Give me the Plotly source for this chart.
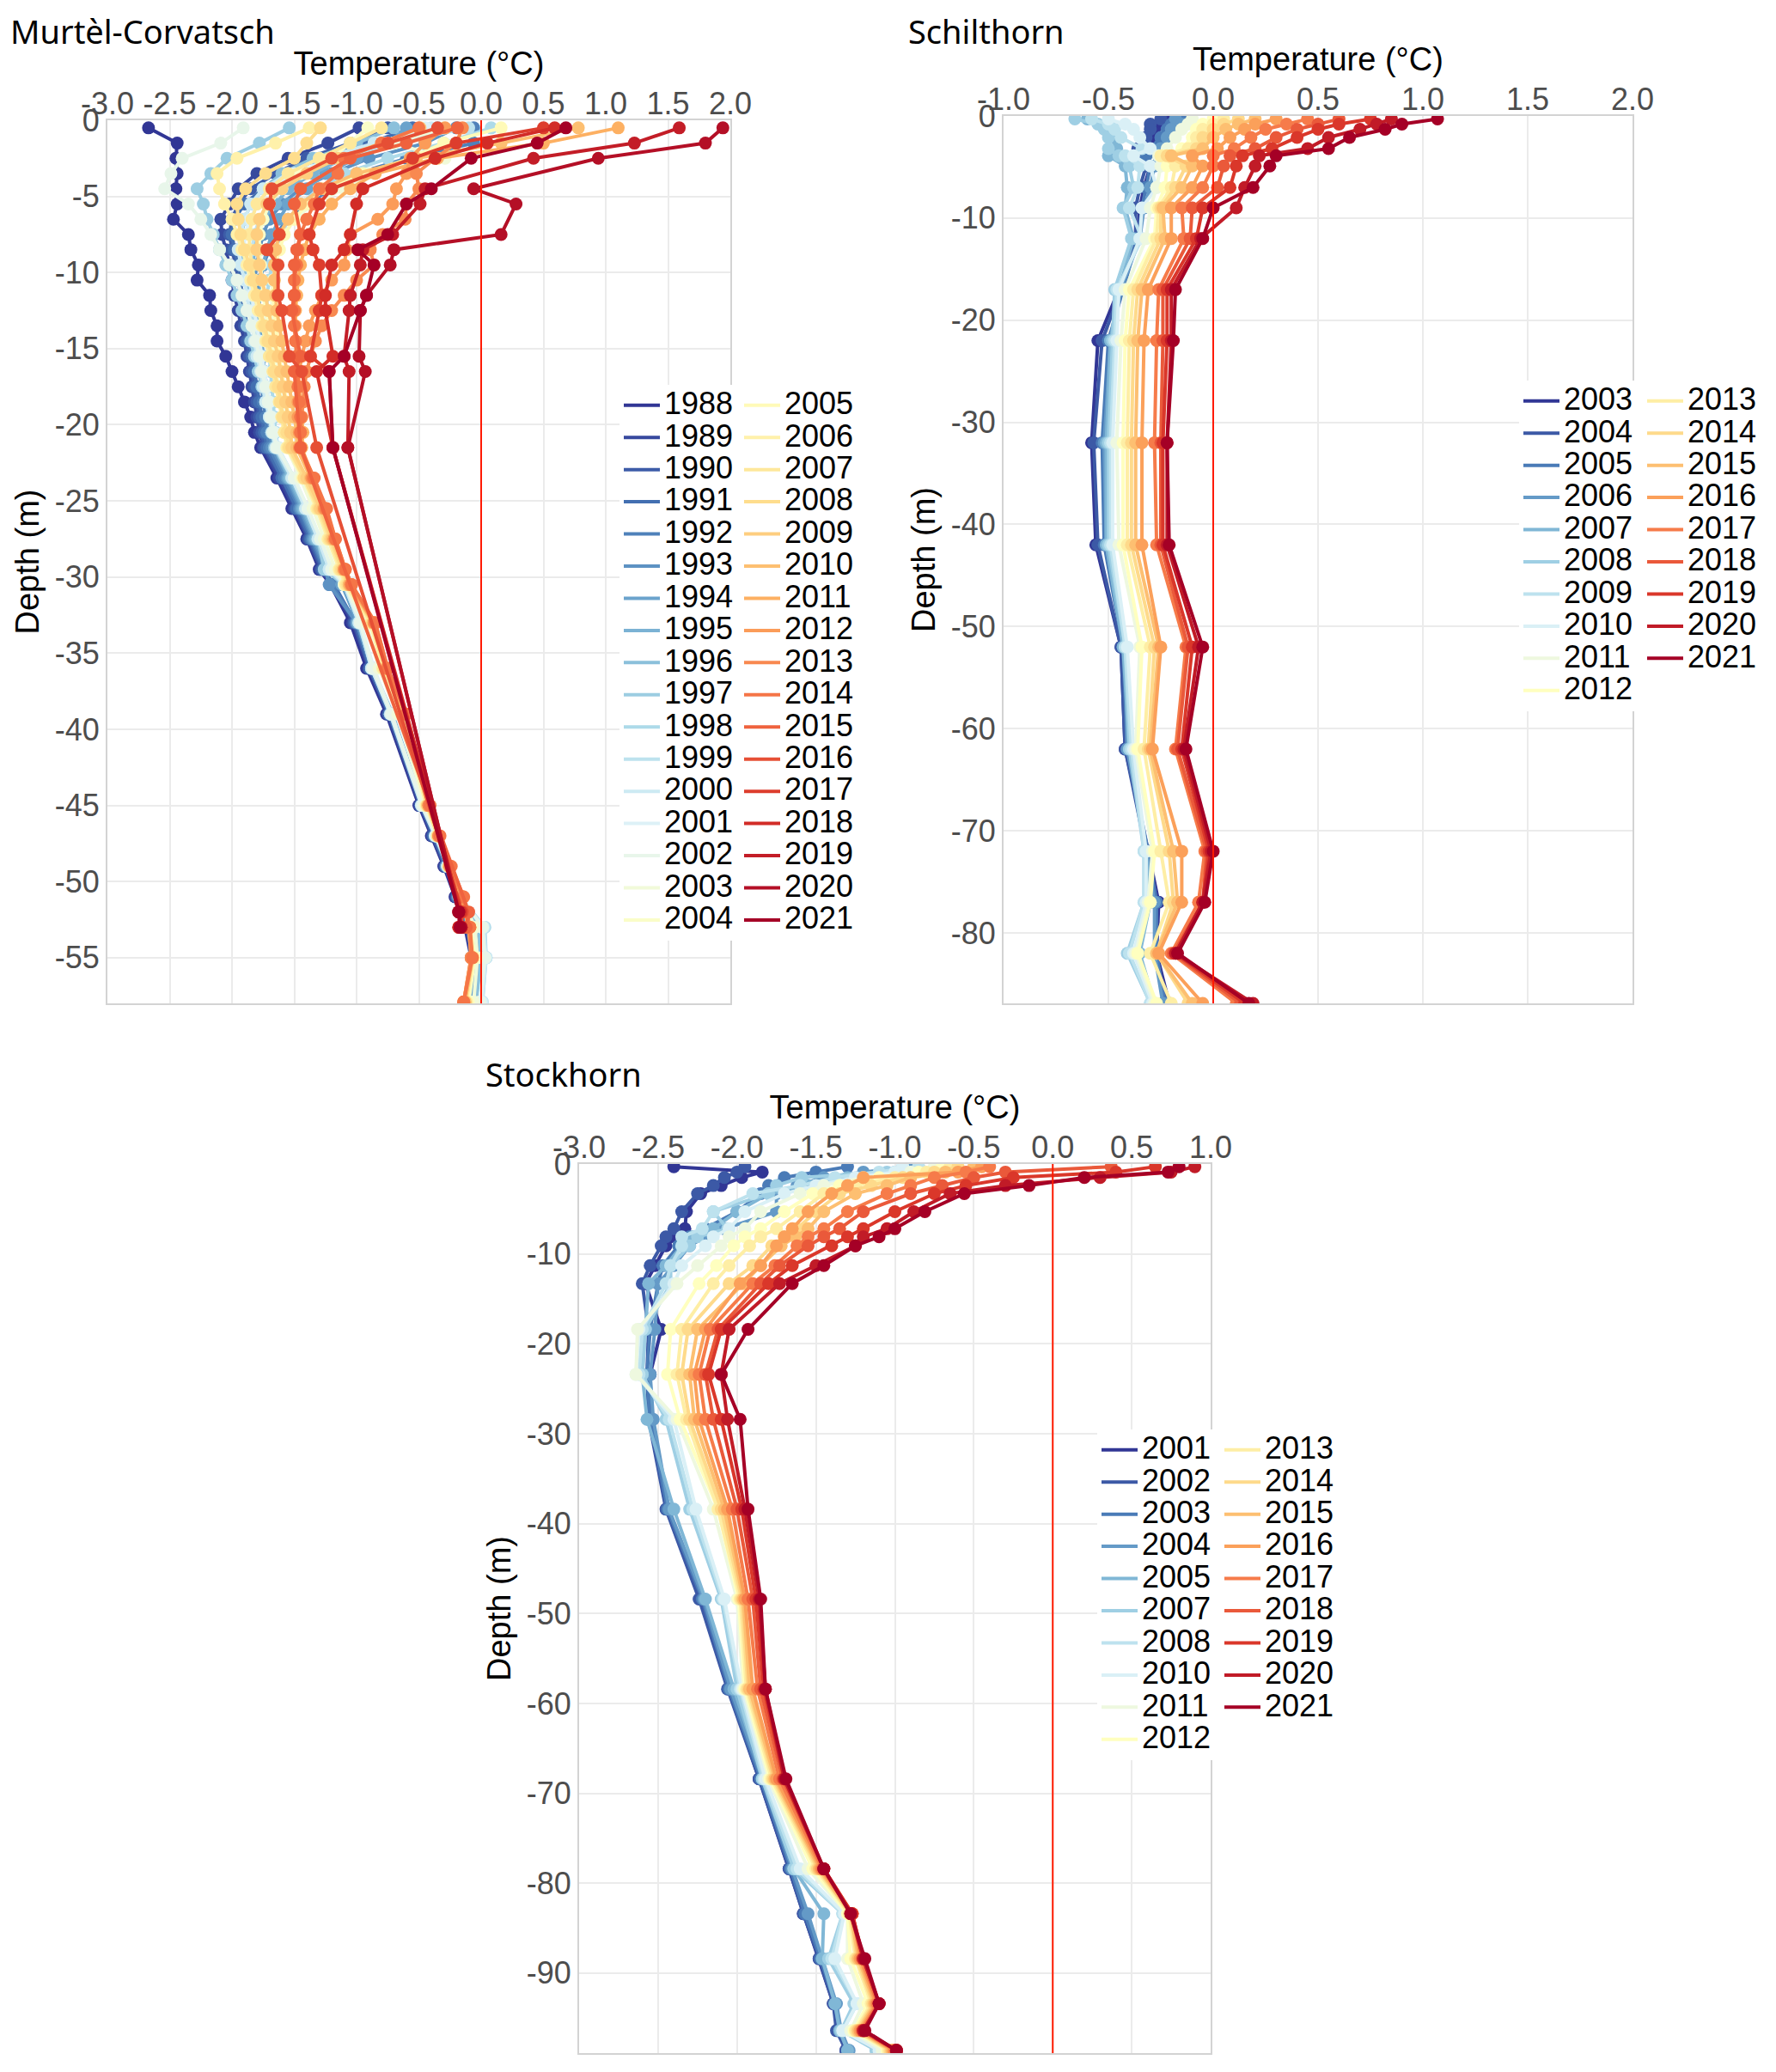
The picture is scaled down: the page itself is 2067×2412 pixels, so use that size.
import plotly.graph_objects as go
from plotly.colors import diverging, sample_colorscale

# the page body adds an 8 px margin, so the figure is drawn 16 px smaller
# and all positions below are given in page pixels
OFF = 8
W, H = 2067 - 2 * OFF, 2412 - 2 * OFF

# ---------------- Murtèl-Corvatsch ----------------
MC_YEARS = [1988, 1989, 1990, 1991, 1992, 1993, 1994, 1995, 1996, 1997, 1998, 1999,
            2000, 2001, 2002, 2003, 2004, 2005, 2006, 2007, 2008, 2009, 2010, 2011,
            2012, 2013, 2014, 2015, 2016, 2017, 2018, 2019, 2020, 2021]
# old borehole (1988-2014) and new sensor set (2015-2021)
MC_DEPTH_OLD = [0.5, 1.5, 2.5, 3.5, 4.5, 5.5, 6.5, 7.5, 8.5, 9.5, 10.5, 11.5, 12.5, 13.5,
                14.5, 15.5, 16.5, 17.5, 18.5, 19.5, 20.5, 21.5, 23.5, 25.5, 27.5, 29.5,
                30.5, 33, 36, 39, 45, 47, 49, 51, 53, 55, 57.9]
MC_DEPTH_NEW = [0.5, 1.5, 2.5, 4.5, 5.5, 7.5, 8.5, 9.5, 11.5, 12.5, 15.5, 16.5, 21.5, 52, 53]

MC_1988 = [-2.67, -2.44, -2.45, -2.44, -2.45, -2.44, -2.47, -2.35, -2.33, -2.27, -2.28, -2.18, -2.17, -2.12, -2.12, -2.05, -2.0, -1.95, -1.9, -1.85, -1.82, -1.77, -1.64, -1.52, -1.4, -1.3, -1.21, -1.05, -0.92, -0.76, -0.5, -0.4, -0.3, -0.21, -0.13, -0.08, -0.12]
MC_1989 = [-0.98, -1.23, -1.55, -1.8, -1.95, -2.02, -2.09, -2.08, -2.05, -2.02, -2.0, -1.98, -1.95, -1.93, -1.9, -1.88, -1.86, -1.84, -1.82, -1.8, -1.78, -1.75, -1.62, -1.5, -1.39, -1.29, -1.2, -1.03, -0.9, -0.75, -0.49, -0.39, -0.29, -0.2, -0.12, -0.07, -0.11]
MC_1990 = [-0.75, -1.05, -1.4, -1.65, -1.85, -1.95, -2.0, -2.02, -2.0, -1.97, -1.95, -1.93, -1.92, -1.9, -1.88, -1.86, -1.84, -1.82, -1.8, -1.78, -1.76, -1.74, -1.6, -1.49, -1.38, -1.28, -1.19, -1.02, -0.9, -0.74, -0.49, -0.39, -0.29, -0.2, -0.12, -0.07, -0.11]
MC_1991 = [-0.55, -0.9, -1.3, -1.55, -1.75, -1.9, -1.98, -2.0, -1.98, -1.95, -1.93, -1.92, -1.9, -1.88, -1.86, -1.84, -1.82, -1.8, -1.78, -1.76, -1.74, -1.72, -1.6, -1.48, -1.37, -1.27, -1.18, -1.01, -0.89, -0.74, -0.48, -0.38, -0.28, -0.19, -0.11, -0.06, -0.1]
MC_1992 = [-0.06, -0.06, -0.6, -1.0, -1.2, -1.4, -1.55, -1.65, -1.7, -1.75, -1.78, -1.8, -1.8, -1.8, -1.79, -1.78, -1.77, -1.76, -1.75, -1.73, -1.72, -1.7, -1.58, -1.46, -1.36, -1.26, -1.2, -1.0, -0.88, -0.73, -0.48, -0.37, -0.28, -0.19, -0.1, -0.05, -0.09]
MC_1993 = [-0.2, -0.45, -0.9, -1.2, -1.45, -1.6, -1.7, -1.75, -1.78, -1.8, -1.82, -1.82, -1.81, -1.8, -1.78, -1.77, -1.75, -1.74, -1.72, -1.7, -1.69, -1.68, -1.56, -1.45, -1.35, -1.25, -1.22, -1.0, -0.88, -0.72, -0.48, -0.37, -0.28, -0.18, -0.1, -0.05, -0.09]
MC_1994 = [-0.6, -0.75, -1.0, -1.25, -1.4, -1.55, -1.62, -1.68, -1.72, -1.75, -1.77, -1.78, -1.78, -1.77, -1.76, -1.75, -1.74, -1.72, -1.71, -1.7, -1.68, -1.66, -1.55, -1.44, -1.34, -1.24, -1.12, -0.99, -0.87, -0.72, -0.47, -0.36, -0.27, -0.18, -0.09, -0.04, -0.08]
MC_1995 = [-0.35, -0.7, -1.1, -1.35, -1.55, -1.65, -1.75, -1.8, -1.82, -1.83, -1.83, -1.82, -1.8, -1.79, -1.77, -1.76, -1.74, -1.73, -1.71, -1.7, -1.68, -1.66, -1.54, -1.43, -1.33, -1.23, -1.08, -0.99, -0.87, -0.72, -0.47, -0.36, -0.27, -0.18, -0.05, -0.02, -0.06]
MC_1996 = [-0.7, -1.0, -1.35, -1.6, -1.75, -1.85, -1.9, -1.92, -1.92, -1.9, -1.88, -1.86, -1.84, -1.82, -1.8, -1.78, -1.76, -1.74, -1.72, -1.7, -1.68, -1.66, -1.53, -1.42, -1.32, -1.22, -1.07, -0.98, -0.87, -0.71, -0.47, -0.36, -0.27, -0.18, -0.02, 0.0, -0.04]
MC_1997 = [-1.54, -1.78, -2.04, -2.17, -2.28, -2.23, -2.2, -2.15, -2.1, -2.05, -2.0, -1.96, -1.92, -1.88, -1.85, -1.82, -1.79, -1.76, -1.73, -1.7, -1.67, -1.65, -1.52, -1.41, -1.31, -1.26, -1.1, -0.98, -0.88, -0.72, -0.47, -0.36, -0.27, -0.17, 0.02, 0.04, 0.0]
MC_1998 = [0.08, -0.3, -0.75, -1.1, -1.3, -1.45, -1.55, -1.6, -1.65, -1.68, -1.7, -1.72, -1.72, -1.72, -1.71, -1.7, -1.69, -1.68, -1.67, -1.66, -1.65, -1.63, -1.5, -1.4, -1.3, -1.21, -1.09, -0.97, -0.87, -0.72, -0.47, -0.36, -0.27, -0.17, 0.03, 0.04, 0.01]
MC_1999 = [-0.1, -0.7, -1.15, -1.45, -1.6, -1.7, -1.78, -1.82, -1.84, -1.85, -1.85, -1.84, -1.83, -1.81, -1.79, -1.77, -1.75, -1.73, -1.71, -1.69, -1.67, -1.64, -1.51, -1.4, -1.3, -1.22, -1.1, -0.98, -0.88, -0.72, -0.47, -0.36, -0.27, -0.17, 0.02, 0.03, 0.0]
MC_2000 = [-0.4, -0.86, -1.3, -1.55, -1.75, -1.85, -1.9, -1.93, -1.95, -1.93, -1.9, -1.88, -1.86, -1.84, -1.82, -1.8, -1.77, -1.75, -1.73, -1.7, -1.68, -1.65, -1.52, -1.41, -1.31, -1.22, -1.1, -0.98, -0.88, -0.73, -0.48, -0.37, -0.27, -0.17, 0.02, 0.04, 0.01]
MC_2001 = [-0.45, -0.76, -1.2, -1.5, -1.7, -1.8, -1.85, -1.9, -1.9, -1.88, -1.86, -1.84, -1.82, -1.8, -1.78, -1.76, -1.74, -1.72, -1.7, -1.68, -1.66, -1.63, -1.5, -1.39, -1.29, -1.2, -1.08, -0.97, -0.86, -0.72, -0.47, -0.36, -0.26, -0.16, 0.01, 0.03, 0.0]
MC_2002 = [-1.91, -2.09, -2.4, -2.49, -2.54, -2.35, -2.25, -2.17, -2.1, -2.02, -1.96, -1.92, -1.88, -1.84, -1.81, -1.78, -1.76, -1.73, -1.71, -1.69, -1.67, -1.64, -1.5, -1.39, -1.29, -1.2, -1.09, -0.97, -0.87, -0.72, -0.47, -0.36, -0.26, -0.16, 0.01, 0.03, -0.01]
MC_2003 = [-0.3, -0.7, -0.29, -0.9, -1.1, -1.35, -1.5, -1.58, -1.62, -1.65, -1.67, -1.68, -1.68, -1.67, -1.66, -1.65, -1.64, -1.62, -1.6, -1.58, -1.57, -1.56, -1.45, -1.35, -1.26, -1.17, -1.1, -0.92, -0.82, -0.67, -0.45, -0.35, -0.26, -0.16, -0.05, -0.03, -0.06]
MC_2004 = [-0.91, -1.05, -1.2, -1.45, -1.6, -1.7, -1.75, -1.78, -1.78, -1.77, -1.76, -1.75, -1.73, -1.71, -1.69, -1.67, -1.65, -1.63, -1.61, -1.59, -1.57, -1.55, -1.43, -1.32, -1.23, -1.14, -1.09, -0.89, -0.79, -0.64, -0.44, -0.35, -0.26, -0.16, -0.08, -0.05, -0.1]
MC_2005 = [0.16, -0.3, -0.57, -0.95, -1.25, -1.4, -1.5, -1.58, -1.62, -1.65, -1.66, -1.67, -1.66, -1.65, -1.63, -1.62, -1.6, -1.58, -1.56, -1.55, -1.53, -1.52, -1.41, -1.31, -1.22, -1.13, -1.08, -0.88, -0.78, -0.63, -0.43, -0.35, -0.26, -0.16, -0.09, -0.06, -0.11]
MC_2006 = [-1.38, -1.65, -1.96, -2.12, -2.1, -2.06, -2.0, -1.96, -1.92, -1.88, -1.85, -1.82, -1.79, -1.76, -1.73, -1.7, -1.67, -1.64, -1.62, -1.6, -1.58, -1.56, -1.43, -1.32, -1.23, -1.14, -1.09, -0.89, -0.79, -0.64, -0.44, -0.35, -0.26, -0.16, -0.09, -0.06, -0.12]
MC_2007 = [-0.8, -1.05, -1.3, -1.55, -1.7, -1.8, -1.84, -1.86, -1.86, -1.84, -1.82, -1.8, -1.77, -1.75, -1.72, -1.7, -1.67, -1.65, -1.62, -1.6, -1.58, -1.55, -1.42, -1.31, -1.22, -1.13, -1.08, -0.88, -0.78, -0.63, -0.43, -0.35, -0.26, -0.16, -0.1, -0.07, -0.12]
MC_2008 = [-1.29, -1.4, -1.5, -1.73, -1.89, -1.96, -1.95, -1.93, -1.9, -1.86, -1.83, -1.8, -1.77, -1.74, -1.71, -1.68, -1.66, -1.63, -1.61, -1.59, -1.56, -1.54, -1.42, -1.3, -1.21, -1.12, -1.07, -0.87, -0.77, -0.62, -0.43, -0.35, -0.26, -0.16, -0.1, -0.07, -0.13]
MC_2009 = [-0.49, -0.8, -1.15, -1.4, -1.6, -1.72, -1.78, -1.8, -1.8, -1.78, -1.76, -1.73, -1.71, -1.68, -1.66, -1.63, -1.61, -1.59, -1.57, -1.55, -1.53, -1.52, -1.4, -1.29, -1.2, -1.11, -1.06, -0.87, -0.77, -0.62, -0.43, -0.34, -0.25, -0.15, -0.1, -0.07, -0.13]
MC_2010 = [0.78, 0.16, -0.52, -1.0, -1.28, -1.45, -1.55, -1.62, -1.65, -1.66, -1.66, -1.65, -1.64, -1.62, -1.6, -1.58, -1.56, -1.54, -1.52, -1.5, -1.48, -1.48, -1.37, -1.27, -1.19, -1.1, -1.06, -0.86, -0.76, -0.61, -0.42, -0.34, -0.25, -0.15, -0.1, -0.07, -0.13]
MC_2011 = [1.1, 0.5, -0.35, -0.85, -1.05, -1.2, -1.3, -1.38, -1.42, -1.45, -1.47, -1.48, -1.49, -1.49, -1.49, -1.48, -1.47, -1.46, -1.45, -1.44, -1.43, -1.44, -1.35, -1.25, -1.18, -1.1, -1.05, -0.86, -0.76, -0.61, -0.42, -0.34, -0.25, -0.15, -0.1, -0.08, -0.14]
MC_2012 = [-0.29, -0.45, -0.57, -0.6, -0.68, -0.71, -0.83, -1.05, -1.08, -1.1, -1.2, -1.28, -1.33, -1.38, -1.41, -1.44, -1.46, -1.47, -1.47, -1.47, -1.46, -1.46, -1.36, -1.26, -1.18, -1.1, -1.05, -0.86, -0.76, -0.6, -0.42, -0.34, -0.25, -0.15, -0.1, -0.08, -0.14]
MC_2013 = [-0.15, -0.2, -0.37, -0.52, -0.5, -0.6, -0.61, -0.79, -0.89, -0.86, -1.0, -1.1, -1.2, -1.28, -1.33, -1.37, -1.4, -1.42, -1.43, -1.44, -1.45, -1.45, -1.35, -1.25, -1.17, -1.09, -1.04, -0.85, -0.75, -0.6, -0.42, -0.34, -0.25, -0.15, -0.09, -0.08, -0.14]
MC_2014 = [-0.5, -0.8, -1.1, -1.15, -1.3, -1.34, -1.4, -1.45, -1.47, -1.48, -1.5, -1.5, -1.5, -1.5, -1.49, -1.48, -1.47, -1.47, -1.46, -1.45, -1.45, -1.45, -1.34, -1.24, -1.17, -1.09, -1.04, -0.85, -0.75, -0.6, -0.41, -0.33, -0.24, -0.14, -0.09, -0.07, -0.14]
MC_2015 = [-0.19, -0.6, -1.05, -1.45, -1.5, -1.45, -1.48, -1.5, -1.5, -1.52, -1.45, -1.5, -1.45, -0.1, -0.12]
MC_2016 = [-0.35, -0.75, -1.2, -1.68, -1.7, -1.62, -1.72, -1.63, -1.63, -1.6, -1.54, -1.44, -1.32, -0.15, -0.16]
MC_2017 = [0.5, -0.2, -0.55, -1.2, -1.3, -1.38, -1.35, -1.3, -1.28, -1.3, -1.37, -1.22, -1.19, -0.16, -0.18]
MC_2018 = [0.59, 0.05, -0.37, -0.95, -1.0, -1.05, -1.1, -1.2, -1.25, -1.25, -1.19, -1.32, -1.19, -0.17, -0.18]
MC_2019 = [1.59, 1.23, 0.42, -0.45, -0.49, -0.71, -0.95, -0.97, -1.05, -1.06, -1.1, -1.06, -1.07, -0.18, -0.16]
MC_2020 = [1.94, 1.8, 0.94, -0.06, 0.28, 0.16, -0.7, -0.73, -0.92, -0.97, -0.98, -0.93, -1.07, -0.18, -0.16]
MC_2021 = [0.68, 0.45, -0.08, -0.4, -0.6, -0.75, -0.99, -0.86, -0.92, -0.97, -1.1, -1.22, -1.19, -0.18, -0.17]

MC_TEMPS = [MC_1988, MC_1989, MC_1990, MC_1991, MC_1992, MC_1993, MC_1994, MC_1995,
            MC_1996, MC_1997, MC_1998, MC_1999, MC_2000, MC_2001, MC_2002, MC_2003,
            MC_2004, MC_2005, MC_2006, MC_2007, MC_2008, MC_2009, MC_2010, MC_2011,
            MC_2012, MC_2013, MC_2014, MC_2015, MC_2016, MC_2017, MC_2018, MC_2019,
            MC_2020, MC_2021]

# ---------------- Schilthorn ----------------
SH_YEARS = [2003, 2004, 2005, 2006, 2007, 2008, 2009, 2010, 2011, 2012,
            2013, 2014, 2015, 2016, 2017, 2018, 2019, 2020, 2021]
SH_DEPTH = [0.3, 0.8, 1.3, 2.1, 3.2, 3.9, 4.9, 7.0, 9.0, 12.0, 17.0, 22.0,
            32.0, 42.0, 52.0, 62.0, 72.0, 77.0, 82.0, 86.9]

SH_2003 = [-0.2, -0.25, -0.28, -0.3, -0.34, -0.34, -0.3, -0.33, -0.35, -0.36, -0.45, -0.55, -0.58, -0.56, -0.44, -0.42, -0.31, -0.26, -0.27, -0.21]
SH_2004 = [-0.25, -0.3, -0.3, -0.32, -0.36, -0.35, -0.32, -0.35, -0.37, -0.37, -0.44, -0.53, -0.57, -0.55, -0.44, -0.42, -0.32, -0.27, -0.28, -0.22]
SH_2005 = [-0.15, -0.2, -0.22, -0.25, -0.3, -0.32, -0.3, -0.32, -0.34, -0.36, -0.43, -0.5, -0.53, -0.52, -0.43, -0.41, -0.31, -0.27, -0.27, -0.23]
SH_2006 = [-0.18, -0.15, -0.2, -0.22, -0.25, -0.26, -0.28, -0.3, -0.33, -0.35, -0.44, -0.49, -0.52, -0.51, -0.42, -0.41, -0.32, -0.28, -0.28, -0.24]
SH_2007 = [-0.6, -0.5, -0.48, -0.47, -0.46, -0.5, -0.42, -0.41, -0.42, -0.38, -0.45, -0.49, -0.51, -0.51, -0.43, -0.4, -0.32, -0.3, -0.35, -0.28]
SH_2008 = [-0.66, -0.55, -0.52, -0.5, -0.5, -0.45, -0.4, -0.38, -0.43, -0.39, -0.47, -0.48, -0.5, -0.5, -0.42, -0.4, -0.33, -0.33, -0.41, -0.3]
SH_2009 = [-0.58, -0.5, -0.47, -0.44, -0.34, -0.42, -0.35, -0.36, -0.4, -0.34, -0.46, -0.47, -0.49, -0.49, -0.42, -0.39, -0.33, -0.33, -0.4, -0.3]
SH_2010 = [-0.5, -0.42, -0.38, -0.35, -0.3, -0.38, -0.3, -0.27, -0.34, -0.35, -0.45, -0.46, -0.48, -0.48, -0.41, -0.38, -0.32, -0.32, -0.38, -0.29]
SH_2011 = [-0.1, -0.12, -0.15, -0.18, -0.22, -0.26, -0.25, -0.27, -0.3, -0.32, -0.42, -0.44, -0.46, -0.45, -0.35, -0.37, -0.29, -0.31, -0.37, -0.28]
SH_2012 = [0.0, -0.05, -0.08, -0.1, -0.15, -0.24, -0.22, -0.23, -0.27, -0.28, -0.4, -0.42, -0.43, -0.43, -0.34, -0.36, -0.28, -0.3, -0.36, -0.27]
SH_2013 = [0.05, 0.0, -0.05, -0.08, -0.12, -0.25, -0.18, -0.2, -0.26, -0.27, -0.38, -0.4, -0.41, -0.41, -0.3, -0.33, -0.25, -0.21, -0.3, -0.2]
SH_2014 = [0.12, 0.05, 0.0, -0.05, -0.08, -0.22, -0.13, -0.18, -0.25, -0.25, -0.36, -0.38, -0.39, -0.39, -0.28, -0.31, -0.21, -0.19, -0.27, -0.12]
SH_2015 = [0.2, 0.12, 0.06, 0.0, -0.05, -0.2, -0.1, -0.15, -0.24, -0.23, -0.34, -0.36, -0.37, -0.37, -0.26, -0.3, -0.19, -0.17, -0.27, -0.1]
SH_2016 = [0.3, 0.2, 0.15, 0.08, 0.02, -0.1, -0.05, -0.1, -0.2, -0.2, -0.31, -0.33, -0.34, -0.34, -0.25, -0.29, -0.15, -0.15, -0.26, -0.05]
SH_2017 = [0.45, 0.35, 0.25, 0.18, 0.1, 0.0, 0.0, -0.05, -0.15, -0.14, -0.26, -0.27, -0.28, -0.27, -0.13, -0.18, -0.04, -0.07, -0.2, 0.11]
SH_2018 = [0.6, 0.5, 0.4, 0.3, 0.2, 0.08, 0.05, 0.02, -0.1, -0.11, -0.24, -0.24, -0.25, -0.25, -0.12, -0.17, -0.03, -0.05, -0.19, 0.13]
SH_2019 = [0.75, 0.6, 0.5, 0.4, 0.28, 0.14, 0.11, 0.08, -0.05, -0.08, -0.22, -0.22, -0.24, -0.24, -0.1, -0.15, -0.02, -0.05, -0.18, 0.15]
SH_2020 = [0.85, 0.78, 0.7, 0.55, 0.45, 0.22, 0.2, 0.15, 0.11, -0.06, -0.2, -0.2, -0.22, -0.22, -0.07, -0.14, -0.01, -0.05, -0.18, 0.19]
SH_2021 = [1.07, 0.9, 0.82, 0.65, 0.55, 0.3, 0.27, 0.19, 0.0, -0.05, -0.18, -0.19, -0.22, -0.21, -0.05, -0.13, 0.0, -0.04, -0.17, 0.17]

SH_TEMPS = [SH_2003, SH_2004, SH_2005, SH_2006, SH_2007, SH_2008, SH_2009, SH_2010,
            SH_2011, SH_2012, SH_2013, SH_2014, SH_2015, SH_2016, SH_2017, SH_2018,
            SH_2019, SH_2020, SH_2021]

# ---------------- Stockhorn ----------------
ST_YEARS = [2001, 2002, 2003, 2004, 2005, 2007, 2008, 2010, 2011, 2012,
            2013, 2014, 2015, 2016, 2017, 2018, 2019, 2020, 2021]
ST_DEPTH = [0.3, 0.9, 1.5, 2.4, 3.3, 5.3, 7.2, 8.1, 9.1, 11.3, 13.3, 18.4,
            23.4, 28.4, 38.4, 48.4, 58.4, 68.4, 78.4, 83.4, 88.4, 93.4, 96.4, 98.6]

ST_2001 = [-2.4, -1.84, -1.97, -2.1, -2.23, -2.32, -2.33, -2.42, -2.45, -2.52, -2.58, -2.48, -2.55, -2.55, -2.44, -2.23, -2.05, -1.86, -1.67, -1.58, -1.48, -1.39, -1.36, -1.31]
ST_2002 = [-1.95, -2.0, -2.08, -2.15, -2.25, -2.35, -2.4, -2.45, -2.48, -2.55, -2.6, -2.56, -2.57, -2.56, -2.45, -2.24, -2.06, -1.86, -1.67, -1.58, -1.48, -1.39, -1.37, -1.31]
ST_2003 = [-1.3, -1.5, -1.7, -1.8, -1.85, -2.0, -2.2, -2.3, -2.37, -2.47, -2.5, -2.55, -2.57, -2.55, -2.44, -2.22, -2.05, -1.85, -1.66, -1.57, -1.47, -1.38, -1.35, -1.3]
ST_2004 = [-0.9, -1.2, -1.45, -1.62, -1.75, -1.75, -2.08, -2.2, -2.3, -2.4, -2.5, -2.52, -2.55, -2.53, -2.43, -2.21, -2.04, -1.84, -1.65, -1.55, -1.46, -1.37, -1.34, -1.29]
ST_2005 = [-0.85, -1.0, -1.3, -1.55, -1.8, -2.0, -2.15, -2.28, -2.35, -2.45, -2.56, -2.58, -2.6, -2.57, -2.4, -2.2, -2.02, -1.83, -1.64, -1.45, -1.46, -1.38, -1.35, -1.3]
ST_2007 = [-0.95, -1.05, -1.59, -1.75, -1.8, -2.15, -2.06, -2.25, -2.3, -2.42, -2.42, -2.58, -2.6, -2.45, -2.3, -2.1, -2.0, -1.84, -1.64, -1.33, -1.42, -1.26, -1.34, -1.12]
ST_2008 = [-0.85, -1.1, -1.38, -1.6, -1.9, -2.15, -2.22, -2.35, -2.35, -2.42, -2.45, -2.6, -2.62, -2.43, -2.28, -2.09, -1.98, -1.83, -1.62, -1.33, -1.4, -1.24, -1.33, -1.1]
ST_2010 = [-0.95, -1.0, -1.25, -1.5, -1.7, -1.95, -2.05, -2.15, -2.2, -2.35, -2.4, -2.62, -2.64, -2.4, -2.26, -2.08, -1.97, -1.82, -1.6, -1.32, -1.38, -1.24, -1.33, -1.1]
ST_2011 = [-0.75, -0.9, -1.2, -1.45, -1.6, -1.85, -1.95, -2.05, -2.1, -2.25, -2.38, -2.63, -2.64, -2.38, -2.15, -2.0, -1.96, -1.8, -1.55, -1.3, -1.3, -1.2, -1.28, -1.08]
ST_2012 = [-0.7, -0.85, -1.1, -1.35, -1.52, -1.7, -1.85, -1.95, -2.02, -2.13, -2.24, -2.42, -2.44, -2.36, -2.12, -1.99, -1.95, -1.79, -1.52, -1.3, -1.28, -1.17, -1.26, -1.05]
ST_2013 = [-0.65, -0.8, -1.0, -1.25, -1.45, -1.6, -1.75, -1.85, -1.92, -2.05, -2.15, -2.35, -2.38, -2.32, -2.12, -1.98, -1.94, -1.78, -1.5, -1.29, -1.25, -1.15, -1.25, -1.04]
ST_2014 = [-0.6, -0.75, -0.95, -1.15, -1.35, -1.5, -1.62, -1.7, -1.78, -1.9, -2.05, -2.31, -2.35, -2.3, -2.1, -1.97, -1.93, -1.77, -1.49, -1.28, -1.24, -1.14, -1.24, -1.03]
ST_2015 = [-0.5, -0.68, -0.9, -1.05, -1.25, -1.45, -1.55, -1.63, -1.72, -1.85, -1.96, -2.25, -2.3, -2.27, -2.08, -1.96, -1.92, -1.76, -1.48, -1.28, -1.23, -1.13, -1.23, -1.02]
ST_2016 = [-0.45, -0.6, -1.2, -1.3, -1.4, -1.55, -1.65, -1.7, -1.75, -1.85, -1.98, -2.2, -2.27, -2.24, -2.06, -1.95, -1.9, -1.75, -1.47, -1.27, -1.22, -1.12, -1.22, -1.01]
ST_2017 = [-0.4, -0.55, -0.75, -0.9, -1.05, -1.3, -1.45, -1.55, -1.62, -1.76, -1.9, -2.17, -2.24, -2.2, -2.03, -1.93, -1.87, -1.73, -1.46, -1.27, -1.21, -1.11, -1.21, -1.0]
ST_2018 = [0.37, -0.3, -0.5, -0.7, -0.9, -1.2, -1.35, -1.45, -1.55, -1.73, -1.85, -2.12, -2.2, -2.15, -2.0, -1.9, -1.85, -1.71, -1.45, -1.27, -1.2, -1.1, -1.2, -0.99]
ST_2019 = [0.65, 0.4, -0.25, -0.55, -0.75, -1.0, -1.2, -1.3, -1.4, -1.65, -1.8, -2.1, -2.18, -2.1, -1.97, -1.88, -1.83, -1.7, -1.45, -1.27, -1.2, -1.1, -1.2, -0.99]
ST_2020 = [0.9, 0.75, 0.3, -0.3, -0.65, -0.88, -1.05, -1.2, -1.25, -1.5, -1.73, -2.05, -2.1, -2.06, -1.95, -1.86, -1.82, -1.7, -1.45, -1.28, -1.2, -1.1, -1.2, -0.99]
ST_2021 = [0.8, 0.73, 0.2, -0.15, -0.56, -0.81, -1.0, -1.1, -1.25, -1.45, -1.65, -1.93, -2.1, -1.98, -1.93, -1.85, -1.82, -1.69, -1.45, -1.28, -1.19, -1.1, -1.19, -0.99]

ST_TEMPS = [ST_2001, ST_2002, ST_2003, ST_2004, ST_2005, ST_2007, ST_2008, ST_2010,
            ST_2011, ST_2012, ST_2013, ST_2014, ST_2015, ST_2016, ST_2017, ST_2018,
            ST_2019, ST_2020, ST_2021]

# tick labels (hyphen minus as in the original)
MC_XTICKS = ["-3.0", "-2.5", "-2.0", "-1.5", "-1.0", "-0.5", "0.0", "0.5", "1.0", "1.5", "2.0"]
MC_YTICKS = ["0", "-5", "-10", "-15", "-20", "-25", "-30", "-35", "-40", "-45", "-50", "-55"]
SH_XTICKS = ["-1.0", "-0.5", "0.0", "0.5", "1.0", "1.5", "2.0"]
SH_YTICKS = ["0", "-10", "-20", "-30", "-40", "-50", "-60", "-70", "-80"]
ST_XTICKS = ["-3.0", "-2.5", "-2.0", "-1.5", "-1.0", "-0.5", "0.0", "0.5", "1.0"]
ST_YTICKS = ["0", "-10", "-20", "-30", "-40", "-50", "-60", "-70", "-80", "-90"]

SANS = "Liberation Sans, Arial, sans-serif"
TICK_FONT = dict(family=SANS, size=36, color="#4d4d4d")
TITLE_FONT = dict(family=SANS, size=38, color="black")


def fx(px):
    return (px - OFF) / W


def fy(py):
    return 1 - (py - OFF) / H


def colours(n):
    scale = diverging.RdYlBu[::-1]
    return sample_colorscale(scale, [i / (n - 1) for i in range(n)])


def add_site(fig, years, depths, temps, xa, ya, legends):
    cols = colours(len(years))
    half = (len(years) + 1) // 2
    for i, (yr, d, t) in enumerate(zip(years, depths, temps)):
        y = [-v for v in d]
        fig.add_trace(go.Scatter(
            x=t, y=y, mode="lines", line=dict(color=cols[i], width=4),
            name=f"<span style='font-size:36px'>{yr}</span>",
            legend=legends[0] if i < half else legends[1],
            xaxis=xa, yaxis=ya, hoverinfo="skip"))
        fig.add_trace(go.Scatter(
            x=t, y=y, mode="markers", marker=dict(color=cols[i], size=15),
            showlegend=False, xaxis=xa, yaxis=ya, hoverinfo="skip"))


def xaxis(px0, px1, rng, ticks, anchor):
    return dict(domain=[fx(px0), fx(px1)], range=rng, anchor=anchor, side="top",
                tickvals=[float(t) for t in ticks], ticktext=ticks, tickfont=TICK_FONT,
                ticklabelstandoff=-9,
                title=dict(text="Temperature (°C)", font=TITLE_FONT, standoff=0),
                showgrid=True, gridcolor="#ebebeb", gridwidth=2, zeroline=False,
                showline=True, mirror=True, linecolor="#d3d3d3", linewidth=2, ticks="",
                automargin=False)


def yaxis(top, bottom, rng, ticks, anchor):
    return dict(domain=[fy(bottom), fy(top)], range=rng, anchor=anchor,
                tickvals=[float(t) for t in ticks], ticktext=ticks, tickfont=TICK_FONT,
                title=dict(text="Depth (m)", font=TITLE_FONT, standoff=6),
                showgrid=True, gridcolor="#ebebeb", gridwidth=2, zeroline=False,
                showline=True, mirror=True, linecolor="#d3d3d3", linewidth=2, ticks="",
                automargin=False)


fig = go.Figure()

mc_depths = [MC_DEPTH_NEW if y >= 2015 else MC_DEPTH_OLD for y in MC_YEARS]
add_site(fig, MC_YEARS, mc_depths, MC_TEMPS, "x", "y", ["legend", "legend2"])
add_site(fig, SH_YEARS, [SH_DEPTH] * len(SH_YEARS), SH_TEMPS, "x2", "y2", ["legend3", "legend4"])
add_site(fig, ST_YEARS, [ST_DEPTH] * len(ST_YEARS), ST_TEMPS, "x3", "y3", ["legend5", "legend6"])

# freezing line
for xa, ya in [("x", "y"), ("x2", "y2"), ("x3", "y3")]:
    fig.add_shape(type="line", xref=xa, yref=f"{ya} domain", x0=0, x1=0, y0=0, y1=1,
                  line=dict(color="#ff1a00", width=2), layer="above")

LEG_FONT = dict(family=SANS, size=26.5, color="black")


def legend(px, py):
    return dict(x=fx(px), y=fy(py), xanchor="left", yanchor="top", bgcolor="white",
                font=LEG_FONT, tracegroupgap=0, borderwidth=0, itemwidth=42)


fig.update_layout(
    width=W, height=H, margin=dict(l=0, r=0, t=0, b=0),
    paper_bgcolor="white", plot_bgcolor="white", showlegend=True,
    xaxis=xaxis(125, 850, [-3, 2], MC_XTICKS, "y"),
    yaxis=yaxis(140, 1168, [-58, 0], MC_YTICKS, "x"),
    xaxis2=xaxis(1168, 1900, [-1, 2], SH_XTICKS, "y2"),
    yaxis2=yaxis(135, 1168, [-86.9, 0], SH_YTICKS, "x2"),
    xaxis3=xaxis(674, 1409, [-3, 1], ST_XTICKS, "y3"),
    yaxis3=yaxis(1355, 2390, [-98.9, 0], ST_YTICKS, "x3"),
    legend=legend(721, 448), legend2=legend(861, 448),
    legend3=legend(1768, 443), legend4=legend(1912, 443),
    legend5=legend(1277, 1664), legend6=legend(1420, 1664),
)

TITLE_TXT = dict(family="Noto Sans, sans-serif", size=38, color="black")
for text, px, py in [("Murtèl-Corvatsch", 10, 36), ("Schilthorn", 1055, 36), ("Stockhorn", 563, 1250)]:
    fig.add_annotation(text=text, x=fx(px), y=fy(py), xref="paper", yref="paper",
                       xanchor="left", yanchor="middle", showarrow=False, font=TITLE_TXT)

fig.write_html("out.html")
